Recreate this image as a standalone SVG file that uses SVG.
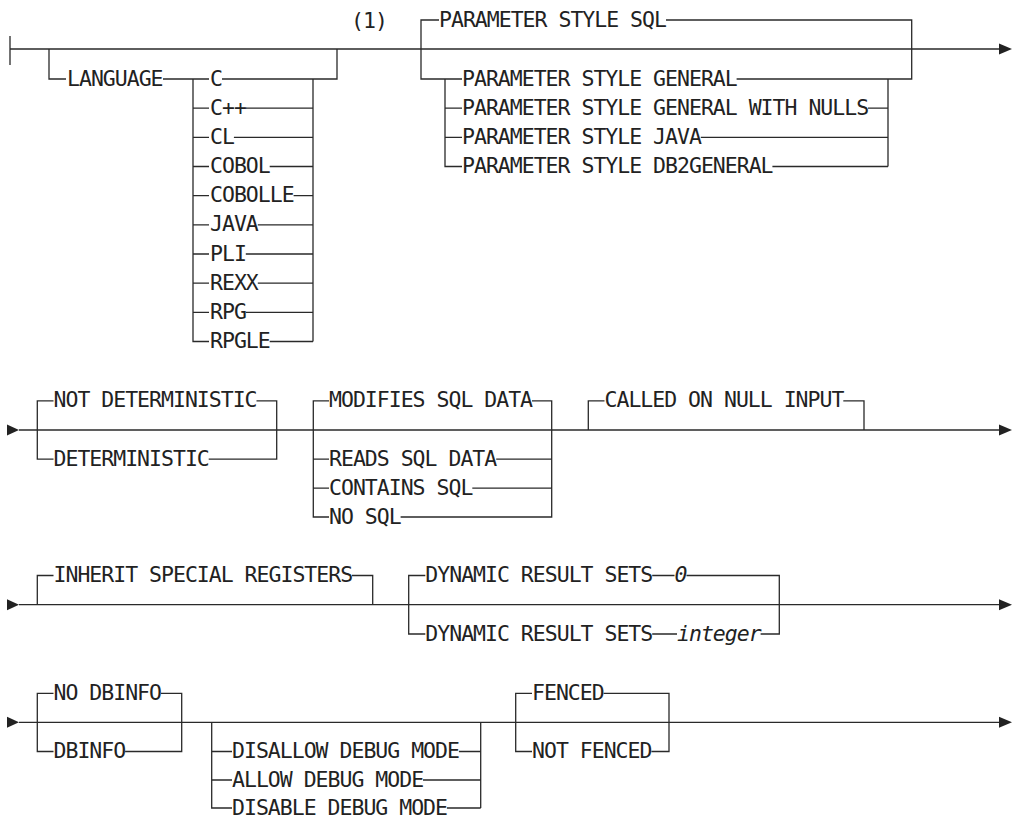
<svg xmlns="http://www.w3.org/2000/svg" width="1013" height="820" viewBox="0 0 1013 820">
<style>
.t{font-family:"DejaVu Sans Mono","Liberation Mono",monospace;font-size:21.5px;letter-spacing:-1px;fill:#222}
.i{font-style:italic}
.c path{fill:none;stroke:#2a2a2a;stroke-width:1.3}
.a{fill:#222}
</style>
<rect width="1013" height="820" fill="#fff"/>
<g class="c" id="connectors">
<path d="M10,36V65M10,49H1000"/>
<path d="M49,49V79H66M163,79H209M222,79H337V49"/>
<path d="M193,79V341.5H209M193,108.2H209M193,137.3H209M193,166.5H209M193,195.7H209M193,224.9H209M193,254H209M193,283.2H209M193,312.4H209"/>
<path d="M313,79V341.5M245.8,108.2H313M233.9,137.3H313M269.7,166.5H313M293.6,195.7H313M257.8,224.9H313M245.8,254H313M257.8,283.2H313M245.8,312.4H313M269.7,341.5H313"/>
<path d="M439,20H421V79H462M666,20H911.7V79H736.6"/>
<path d="M445,79V166.5H462M445,108.2H462M445,137.3H462"/>
<path d="M888,79V166.5M868,108.2H888M700.8,137.3H888M772.4,166.5H888"/>
<path d="M19,430H1000"/>
<path d="M53.5,400.8H37.3V459.1H53.5M256.5,400.8H276.7V459.1H208.7"/>
<path d="M329,400.8H313.3V517H329M313.3,459.1H329M313.3,488.2H329M532,400.8H551.7V517H400.6M496.2,459.1H551.7M472.3,488.2H551.7"/>
<path d="M588.3,430V400.8H604.5M843.3,400.8H864V430"/>
<path d="M19,604.7H1000"/>
<path d="M53.5,575.5H37.3V604.7M352,575.5H372.7V604.7"/>
<path d="M425.3,575.5H408.7V634H425.3M652.2,575.5H674.5M686.5,575.5H779.3V634H760.6M652.2,634H677"/>
<path d="M19,722.3H1000"/>
<path d="M53.5,693.3H37.3V751.5H53.5M161,693.3H181.7V751.5H125.1"/>
<path d="M211.7,722.3V808H232M211.7,751.5H232M211.7,780H232M458.9,751.5H480.7M423,780H480.7M446.9,808H480.7M480.7,722.3V808"/>
<path d="M532,693.3H515.7V751.5H532M603.6,693.3H669V751.5H651.4"/>
</g>
<g id="arrows">
<polygon class="a" points="999,43.5 1012,49 999,54.5"/>
<polygon class="a" points="7,424.5 19,430 7,435.5"/>
<polygon class="a" points="999,424.5 1012,430 999,435.5"/>
<polygon class="a" points="7,599.2 19,604.7 7,610.2"/>
<polygon class="a" points="999,599.2 1012,604.7 999,610.2"/>
<polygon class="a" points="7,716.8 19,722.3 7,727.8"/>
<polygon class="a" points="999,716.8 1012,722.3 999,727.8"/>
</g>
<g id="language">
<text class="t" x="67" y="85.5">LANGUAGE</text>
</g>
<g id="language-values">
<text class="t" x="210" y="85.5">C</text>
<text class="t" x="210" y="114.7">C++</text>
<text class="t" x="210" y="143.8">CL</text>
<text class="t" x="210" y="173">COBOL</text>
<text class="t" x="210" y="202.2">COBOLLE</text>
<text class="t" x="210" y="231.4">JAVA</text>
<text class="t" x="210" y="260.5">PLI</text>
<text class="t" x="210" y="289.7">REXX</text>
<text class="t" x="210" y="318.9">RPG</text>
<text class="t" x="210" y="348">RPGLE</text>
</g>
<g id="note1">
<text class="t" x="351" y="28">(1)</text>
</g>
<g id="parameter-style">
<text class="t" x="439" y="26.5">PARAMETER STYLE SQL</text>
<text class="t" x="462" y="85.5">PARAMETER STYLE GENERAL</text>
<text class="t" x="462" y="114.7">PARAMETER STYLE GENERAL WITH NULLS</text>
<text class="t" x="462" y="143.8">PARAMETER STYLE JAVA</text>
<text class="t" x="462" y="173">PARAMETER STYLE DB2GENERAL</text>
</g>
<g id="deterministic">
<text class="t" x="53.5" y="407.3">NOT DETERMINISTIC</text>
<text class="t" x="53.5" y="465.6">DETERMINISTIC</text>
</g>
<g id="sql-data">
<text class="t" x="329" y="407.3">MODIFIES SQL DATA</text>
<text class="t" x="329" y="465.6">READS SQL DATA</text>
<text class="t" x="329" y="494.7">CONTAINS SQL</text>
<text class="t" x="329" y="523.5">NO SQL</text>
</g>
<g id="called">
<text class="t" x="604.5" y="407.3">CALLED ON NULL INPUT</text>
</g>
<g id="inherit">
<text class="t" x="53.5" y="582">INHERIT SPECIAL REGISTERS</text>
</g>
<g id="dynamic">
<text class="t" x="425.3" y="582">DYNAMIC RESULT SETS</text>
<text class="t i" x="674.5" y="582">0</text>
<text class="t" x="425.3" y="640.5">DYNAMIC RESULT SETS</text>
<text class="t i" x="677" y="640.5">integer</text>
</g>
<g id="dbinfo">
<text class="t" x="53.5" y="699.8">NO DBINFO</text>
<text class="t" x="53.5" y="758">DBINFO</text>
</g>
<g id="debug">
<text class="t" x="232" y="758">DISALLOW DEBUG MODE</text>
<text class="t" x="232" y="786.5">ALLOW DEBUG MODE</text>
<text class="t" x="232" y="814.5">DISABLE DEBUG MODE</text>
</g>
<g id="fenced">
<text class="t" x="532" y="699.8">FENCED</text>
<text class="t" x="532" y="758">NOT FENCED</text>
</g>
</svg>
